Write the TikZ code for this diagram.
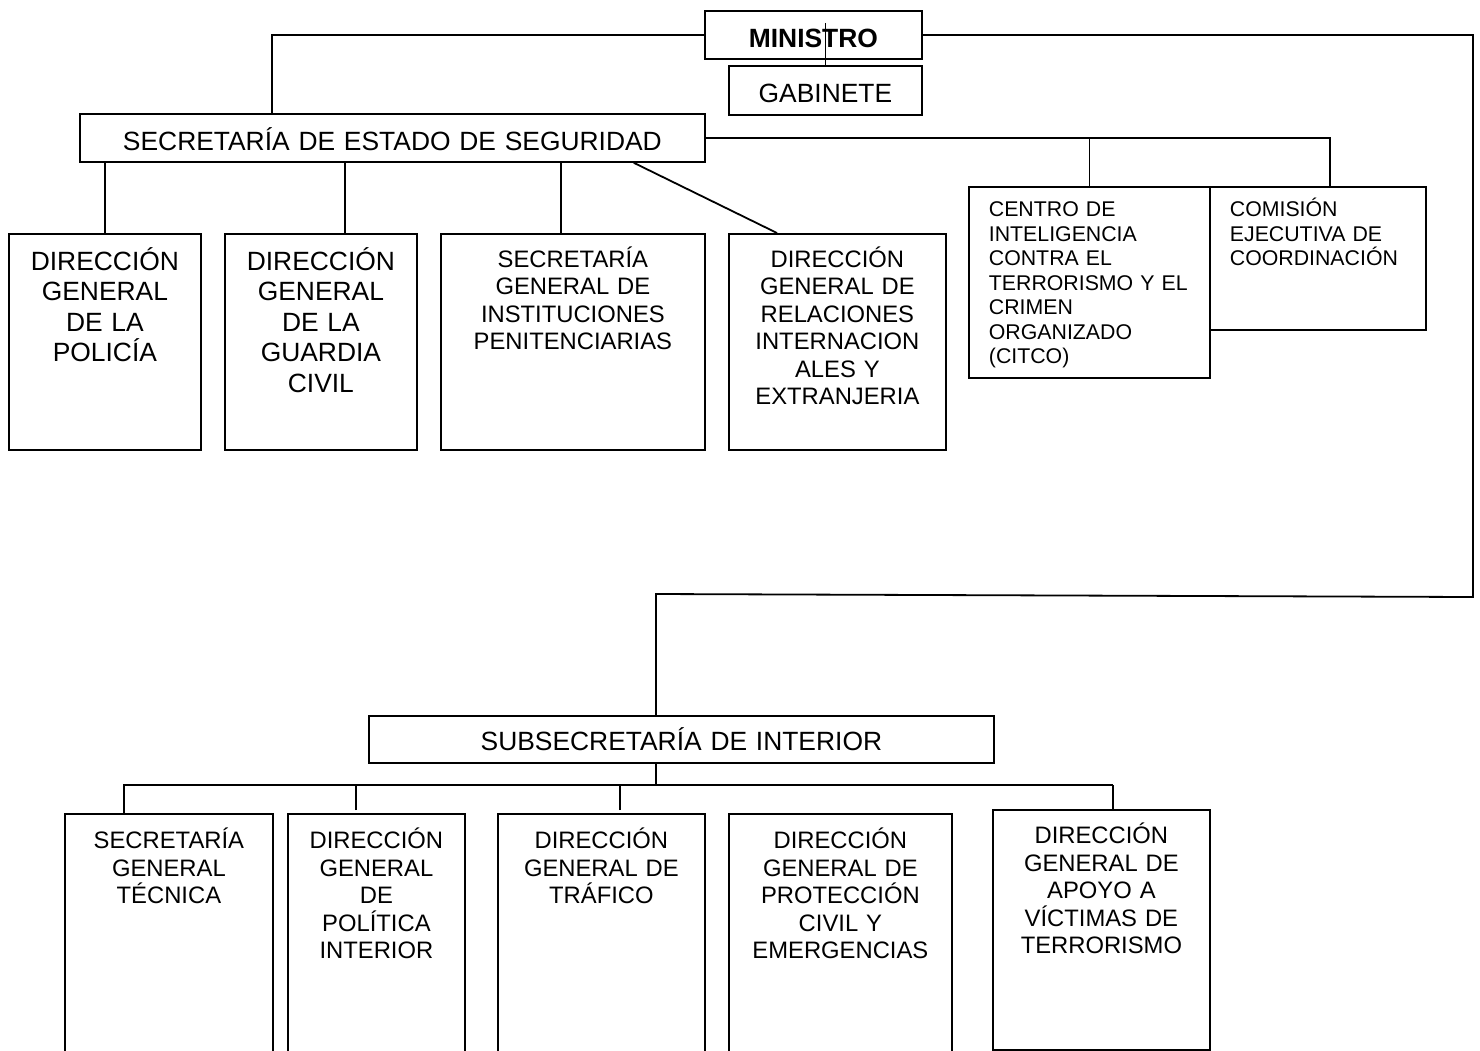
\documentclass[tikz,border=0pt]{standalone}
\usepackage{fontspec}
\setmainfont{Liberation Sans}

\newcommand{\orgbig}{\fontsize{26.4}{30.4}\selectfont}
\newcommand{\orgmid}{\fontsize{23.8}{27.5}\selectfont}
\newcommand{\orgsmall}{\fontsize{21.3}{24.5}\selectfont}

\begin{document}
\begin{tikzpicture}[
		x=1pt, y=-1pt,
		line width=1.8pt,
		unit/.style={draw, anchor=north west, inner sep=0pt, align=center},
		big/.style={font=\orgbig},
		mid/.style={font=\orgmid},
		small/.style={font=\orgsmall, align=left, inner xsep=20pt}
		]
		
		\path[use as bounding box, fill=white] (0,0) rectangle (1480,1050);
		
		% Ministro and gabinete
		\node[unit, font=\orgbig\bfseries, text width=217pt, text height=36.5pt, text depth=11.5pt] (ministro) at (704,10) {MINISTRO};
		\node[unit, big, text width=193pt, text height=36.5pt, text depth=12.5pt] (gabinete) at (728,65) {GABINETE};
		
		% Secretaria de estado
		\node[unit, big, text width=625pt, text height=36.5pt, text depth=11.5pt] (seguridad) at (79,113) {SECRETARÍA DE ESTADO DE SEGURIDAD};
		
		\node[unit, big, text width=192pt, text height=36.5pt, text depth=179.5pt] (policia) at (8,233) {DIRECCIÓN\\GENERAL\\DE LA\\POLICÍA};
		\node[unit, big, text width=192pt, text height=36.5pt, text depth=179.5pt] (guardia) at (224,233) {DIRECCIÓN\\GENERAL\\DE LA\\GUARDIA\\CIVIL};
		\node[unit, mid, text width=264pt, text height=33.5pt, text depth=182.5pt] (penitenciarias) at (440,233) {SECRETARÍA\\GENERAL DE\\INSTITUCIONES\\PENITENCIARIAS};
		\node[unit, mid, text width=217pt, text height=33.5pt, text depth=182.5pt] (exterior) at (728,233) {DIRECCIÓN\\GENERAL DE\\RELACIONES\\INTERNACION\\ALES Y\\EXTRANJERIA};
		\node[unit, small, text width=201pt, text height=29.6pt, text depth=161.4pt] (citco) at (968,186) {CENTRO DE\\INTELIGENCIA\\CONTRA EL\\TERRORISMO Y EL\\CRIMEN\\ORGANIZADO\\(CITCO)};
		\node[unit, small, text width=176pt, text height=29.6pt, text depth=113.4pt] (comision) at (1209,186) {COMISIÓN\\EJECUTIVA DE\\COORDINACIÓN};
		
		% Subsecretaria
		\node[unit, big, text width=625pt, text height=34.5pt, text depth=12.5pt] (subsecretaria) at (368,715) {SUBSECRETARÍA DE INTERIOR};
		
		\node[unit, mid, text width=208pt, text height=34.6pt, text depth=215pt] (tecnica) at (64,813) {SECRETARÍA\\GENERAL\\TÉCNICA};
		\node[unit, mid, text width=177pt, text height=34.6pt, text depth=215pt] (politica) at (287,813) {DIRECCIÓN\\GENERAL\\DE\\POLÍTICA\\INTERIOR};
		\node[unit, mid, text width=207pt, text height=34.6pt, text depth=215pt] (trafico) at (497,813) {DIRECCIÓN\\GENERAL DE\\TRÁFICO};
		\node[unit, mid, text width=223pt, text height=34.6pt, text depth=215pt] (proteccion) at (728,813) {DIRECCIÓN\\GENERAL DE\\PROTECCIÓN\\CIVIL Y\\EMERGENCIAS};
		\node[unit, mid, text width=217pt, text height=33.6pt, text depth=206.4pt] (victimas) at (992,809) {DIRECCIÓN\\GENERAL DE\\APOYO A\\VÍCTIMAS DE\\TERRORISMO};
		
		% Lines from the ministro
		\coordinate (rcorner) at (1473,597);
		\coordinate (lcorner) at (656,594);
		\draw ([yshift=12pt]ministro.center -| gabinete.north) -- (gabinete.north);
		\draw (ministro.west) -| ([xshift=193pt]seguridad.north west);
		\draw (ministro.east) -| (rcorner) -- (lcorner) -- (lcorner |- subsecretaria.north);
		
		% Lines under the secretaria de estado
		\foreach \n/\dx in {policia/0, guardia/24, penitenciarias/-12}
		{
			\draw ([xshift=\dx pt]\n.north) -- ([xshift=\dx pt]\n.north |- seguridad.south);
		}
		\draw ([xshift=-72pt]seguridad.south east) -- ([xshift=49pt]exterior.north west);
		\draw (seguridad.east) -| ([xshift=12pt]comision.north);
		\draw (citco.north) -- (citco.north |- seguridad.east);
		
		% Lines under the subsecretaria
		\coordinate (busL) at (123,785);
		\coordinate (busR) at (1113,785);
		\draw (busL) -- (busR);
		\draw (lcorner |- subsecretaria.south) -- (lcorner |- busL);
		\foreach \n/\dx/\gap in {tecnica/60/0, politica/69/3, trafico/123/3, victimas/121/0}
		{
			\draw ([xshift=\dx pt, yshift=\gap pt]\n.north west) -- ([xshift=\dx pt]\n.north west |- busL);
		}
		
	\end{tikzpicture}
\end{document}
